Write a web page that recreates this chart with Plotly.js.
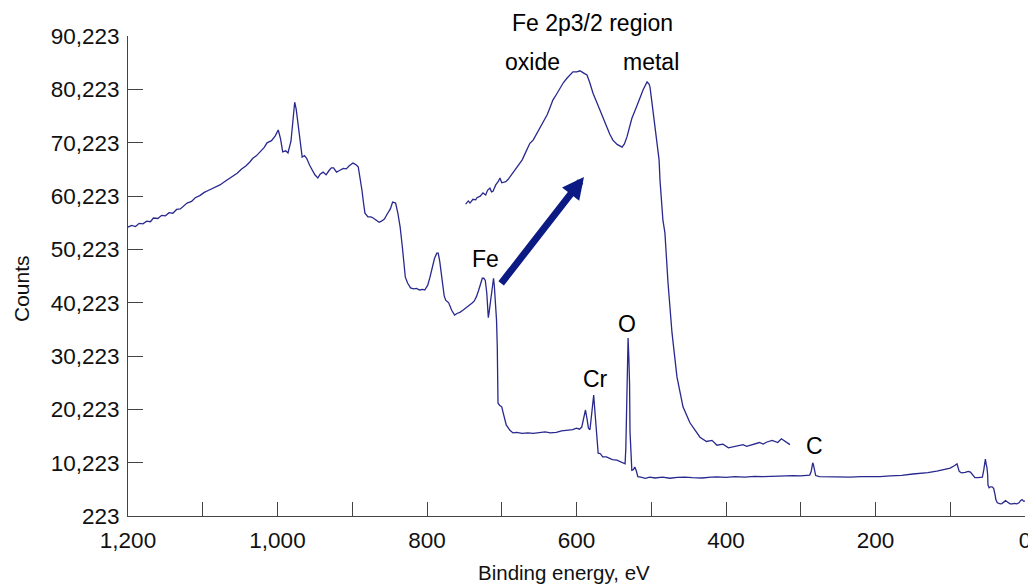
<!DOCTYPE html>
<html>
<head>
<meta charset="utf-8">
<script src="https://cdn.plot.ly/plotly-3.0.1.min.js"></script>
<style>html,body{margin:0;padding:0;background:#fff;}#chart{width:1028px;height:586px;}</style>
</head>
<body>
<div id="chart"></div>
<script>
// Survey spectrum: binding energy (eV) and counts
var surveyEnergy = [1200,1195,1190,1185,1180,1175,1170,1166,1160,1155,1150,1145,1140,1135,1130,1121,1115,1110,1104,1098,1092,1085,1077,1070,1063,1054,1048,1042,1037,1033,1028,1022,1018,1014,1008,1003,999,996,993,989,986,982,979,977,975,972,969,967,964,961,957,954,950,946,943,939,935,931,928,925,921,917,912,908,904,899,895,892,889,887,885,883,879,875,872,868,864,861,857,853,849,846,842,839,836,833,831,829,826,822,818,814,810,806,803,799,796,793,790,787,785,783,781,779,777,775,771,767,763,760,756,752,748,744,740,737,734,731,728,726,724,722,720,719,718,717,716,714,712,711,710,708,707,706,705,703,700,698,696,694,692,689,685,680,673,665,658,650,642,635,627,620,612,605,600,596,593,590,588,586,584,582,580,578,577,576,574,573,572,571,568,565,560,556,552,546,541,538,535,534,533,532,531,530,529,528.4,527,526,524,522,520,518,514,508,502,495,485,475,465,455,445,432,420,412,400,388,375,362,350,336,324,310,300,292,288,286,284,283,281.5,280,275,265,255,245,234,220,208,194,180,165,150,140,130,118,106,100,94,91,88,85,80,76,73,70,67,63,60,57,55,54,53,52,51,50,49.5,48,46,44,42,40,39,37,35,33,31,28,26,24,22,20,17,14,11,8,6,4,2,0];
var surveyCounts = [54400,54700,54500,55100,55000,55500,55400,56100,56000,56600,56500,57100,57000,57700,57800,58900,59200,59900,60300,60900,61300,61800,62300,63000,63600,64500,65300,65900,66600,67300,67800,68700,69300,70200,70600,71500,72600,71000,68500,68700,68300,70500,75000,77800,76500,73500,70000,67500,67800,67300,66000,65100,64200,63600,64300,64700,64200,65000,65500,65500,64700,65000,65400,65300,65900,66400,66100,65700,63500,61300,59000,57000,56300,56300,56100,55700,55300,55500,55900,56900,57800,59100,58900,57000,54500,50700,47500,45000,43900,43000,42800,42900,42600,42700,42600,43500,45000,46900,48500,49500,49500,48000,45500,43000,41500,40700,40200,38800,37900,38200,38400,38800,39200,39700,40100,40500,41300,42500,44000,44800,44800,44400,42000,38500,37400,38300,39400,41500,44500,44800,43500,40000,37000,32000,21400,21000,20700,19500,18500,17300,16900,16300,15800,15900,15700,15800,15700,15900,16000,15800,15900,16200,16300,16400,16700,16500,16900,18500,20100,18500,16700,16400,19000,22000,22900,21000,17000,15800,13000,12000,11900,11300,11300,11000,10800,10700,10400,10200,10000,13000,22000,29000,33600,30000,25000,16000,9500,8800,8900,9400,8700,7600,7500,7300,7500,7350,7500,7300,7450,7500,7400,7350,7500,7550,7450,7600,7500,7650,7600,7700,7650,7800,7750,7800,7900,8600,10200,9800,8400,7800,7600,7550,7500,7550,7500,7600,7550,7600,7750,7850,8100,8200,8350,8650,9000,9200,9700,10000,8600,8300,8400,8600,8450,7800,7400,7400,7400,7500,9000,10500,10900,10000,9400,8000,6000,5500,5700,5700,5400,4200,3300,2700,2600,2500,2550,2900,3100,2900,2700,2500,2500,2600,2500,2700,3100,3300,3000,3000];

// Fe 2p3/2 region detail (inset curve), binding energy (eV) and counts
var feEnergy = [717.1,716.95,716.86,716.7,716.55,716.48,716.3,716.15,716.0,715.9,715.77,715.68,715.6,715.45,715.3,715.22,715.12,715.0,714.9,714.78,714.6,714.4,714.2,714.0,713.8,713.58,713.4,713.19,713.05,712.92,712.78,712.64,712.5,712.32,712.12,711.93,711.74,711.55,711.38,711.22,711.0,710.84,710.65,710.45,710.3,710.12,709.95,709.74,709.55,709.36,709.2,709.03,708.8,708.53,708.4,708.26,708.1,707.99,707.8,707.66,707.5,707.38,707.25,707.16,707.05,707.0,706.9,706.84,706.72,706.62,706.5,706.45,706.35,706.29,706.18,706.01,705.79,705.52,705.19,704.81,704.5,704.26,703.9,703.6,703.33,703.0,702.7,702.45,702.2,701.9,701.7,701.52,701.3,701.0,700.8,700.59,700.3,700.0,699.8,699.71,699.49,699.33];
var feCounts = [58700,59300,58900,59600,59500,59900,60200,60800,60400,61300,61700,61000,61100,62300,63000,63600,62700,62800,62900,63300,64200,65100,66200,67000,68500,70100,70700,72000,73000,73900,74700,75400,76600,78200,79300,80500,81500,82300,83000,83500,83500,83700,83300,82900,81500,79500,78100,76300,74800,73200,71800,70700,69900,69400,70000,71300,73600,74800,76400,77500,79000,80100,81200,81600,81200,80700,78000,76300,73000,70700,67000,63200,59000,55700,53300,43900,34500,26300,20700,17700,16200,15000,14200,14400,13500,13700,13000,13200,13400,13600,13300,13500,13800,14000,13700,14100,14400,14000,14700,14500,13900,13600];

// Peak labels
var peakLabels = ["Fe", "Cr", "O", "C"];
var peakEnergy = [722, 574, 532, 282];
var peakCounts = [48500, 25900, 36300, 13300];

// Inset labels
var insetLabels = ["Fe 2p3/2 region", "oxide", "metal"];

var font = "Liberation Sans, Arial, sans-serif";
var lineColor = "#28288e";
var labelSize = 23;

var traces = [
  {x: surveyEnergy, y: surveyCounts, type: "scatter", mode: "lines",
   line: {color: lineColor, width: 1.3}, xaxis: "x", yaxis: "y", hoverinfo: "skip"},
  {x: feEnergy, y: feCounts, type: "scatter", mode: "lines",
   line: {color: lineColor, width: 1.3}, xaxis: "x2", yaxis: "y", hoverinfo: "skip"}
];

var annotations = [];
for (var i = 0; i < peakLabels.length; i++) {
  annotations.push({x: peakEnergy[i], y: peakCounts[i], xref: "x", yref: "y", text: peakLabels[i],
    xanchor: "center", yanchor: "middle",
    showarrow: false, font: {family: font, size: labelSize, color: "#000"}});
}
var insetPos = [[0.5173, 1.027], [0.4515, 0.946], [0.5836, 0.946]];
for (var j = 0; j < insetLabels.length; j++) {
  annotations.push({x: insetPos[j][0], y: insetPos[j][1], xref: "paper", yref: "paper", text: insetLabels[j],
    xanchor: "center", yanchor: "middle",
    showarrow: false, font: {family: font, size: labelSize, color: "#000"}});
}
annotations.push({x: 590, y: 63800, xref: "x", yref: "y", text: "", showarrow: true,
  axref: "pixel", ayref: "pixel", ax: -84, ay: 108, arrowcolor: "#0c1a84",
  arrowwidth: 7, arrowhead: 2, arrowsize: 0.62, standoff: 0, startstandoff: 0});
// axis titles
annotations.push({x: -0.1193, y: 0.475, xref: "paper", yref: "paper", text: "Counts", textangle: -90,
  xanchor: "center", yanchor: "middle",
  showarrow: false, font: {family: font, size: 21, color: "#111"}});
annotations.push({x: 0.486, y: -0.117, xref: "paper", yref: "paper", text: "Binding energy, eV",
  xanchor: "center", yanchor: "middle",
  showarrow: false, font: {family: font, size: 20.5, color: "#111"}});

var layout = {
  width: 1028, height: 586,
  margin: {l: 128, r: 3, t: 36, b: 70},
  paper_bgcolor: "#fff", plot_bgcolor: "#fff",
  showlegend: false,
  font: {family: font, color: "#000"},
  xaxis: {
    range: [1200, 0], dtick: 200, tick0: 0, tickformat: ",d",
    ticks: "inside", ticklen: 14, tickcolor: "#444", tickwidth: 1,
    minor: {dtick: 100, tick0: 0, ticks: "inside", ticklen: 14, tickcolor: "#444", tickwidth: 1, showgrid: false},
    showline: true, linecolor: "#444", linewidth: 1, showgrid: false, zeroline: false,
    ticklabeloverflow: "allow", ticklabelstandoff: 4,
    tickfont: {family: font, size: 22.5, color: "#111"}
  },
  xaxis2: {range: [735.6, 686.45], overlaying: "x", anchor: "y", visible: false, showgrid: false, zeroline: false},
  yaxis: {
    range: [223, 90223], tick0: 223, dtick: 10000, tickformat: ",d",
    ticks: "inside", ticklen: 15, tickcolor: "#444", tickwidth: 1,
    showline: true, linecolor: "#444", linewidth: 1, showgrid: false, zeroline: false,
    ticklabelstandoff: 3,
    tickfont: {family: font, size: 22.5, color: "#111"}
  },
  annotations: annotations
};

Plotly.newPlot("chart", traces, layout, {displayModeBar: false, staticPlot: true});
</script>
</body>
</html>
